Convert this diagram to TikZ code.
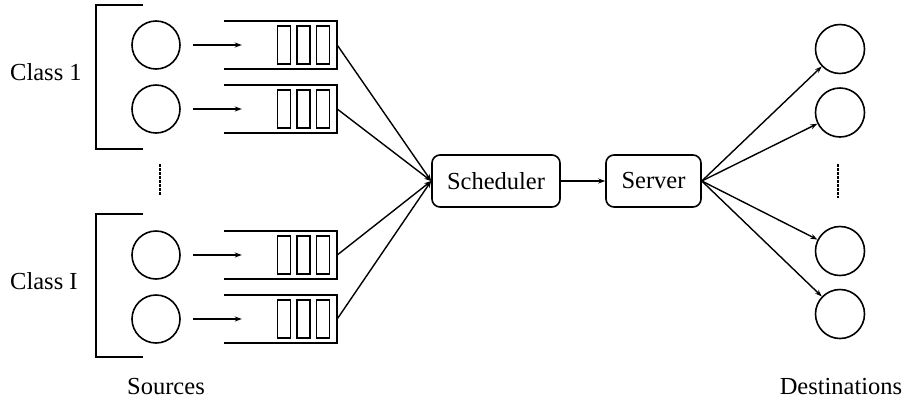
\documentclass[tikz,border=0pt]{standalone}
\usepackage{fontspec}
\setmainfont{Liberation Serif}
\usetikzlibrary{arrows.meta}
\begin{document}
\begin{tikzpicture}[x=1pt,y=-1pt,
  lbl/.style={font=\fontsize{24.5}{28}\selectfont, inner sep=0pt},
  src/.style={draw, circle, line width=1.6pt, minimum size=48pt, inner sep=0pt},
  dst/.style={draw, circle, line width=1.6pt, minimum size=49pt, inner sep=0pt},
  proc/.style={draw, rounded corners=8pt, line width=1.6pt, inner sep=0pt,
    font=\fontsize{24.5}{28}\selectfont},
  qframe/.style={draw=none, minimum width=113pt, minimum height=48pt, inner sep=0pt},
  slot/.style={line width=1.5pt},
  wire/.style={line width=1.4pt, -{Stealth[length=7pt,width=5pt]}},
  brk/.style={line width=1.6pt},
  dots/.style={line width=1.4pt, dash pattern=on 2.5pt off 1.5pt}]
\useasboundingbox (0,0) rectangle (904,405);

% class brackets
\draw[brk] (143,5) -- (96,5) -- (96,149) -- (143,149);
\draw[brk] (143,214) -- (96,214) -- (96,357) -- (143,357);
\node[lbl, anchor=west] (c1) at (10,72) {Class 1};
\node[lbl, anchor=west] (cI) at (10,281) {Class I};
\draw[dots] (160,164) -- (160,196);

% sources
\node[src] (s1) at (156,45) {};
\node[src] (s2) at (156,109) {};
\node[src] (s3) at (156,255) {};
\node[src] (s4) at (156,319) {};

% queues: open on the left, three slots near the right end
\foreach \i/\y in {1/45, 2/109, 3/255, 4/319} {
  \node[qframe] (q\i) at (280.5,\y) {};
  \draw[brk] (q\i.north west) -- (q\i.north east) -- (q\i.south east) -- (q\i.south west);
  \foreach \x in {277.5, 297, 316.5}
    \draw[slot] (\x,\y-19) rectangle ++(13,38);
  \draw[wire, shorten <=12pt] (s\i.east) -- ([xshift=18pt]q\i.west);
}

% scheduler and server
\node[proc, minimum width=128pt, minimum height=52pt] (sch) at (496,181) {Scheduler};
\node[proc, minimum width=95pt, minimum height=52pt] (srv) at (653.5,181) {Server};
\foreach \i in {1,...,4}
  \draw[wire] (q\i.east) -- (sch.west);
\draw[wire] (sch) -- (srv);

% destinations
\node[dst] (d1) at (840,49) {};
\node[dst] (d2) at (840,112.5) {};
\node[dst] (d3) at (840,251) {};
\node[dst] (d4) at (840,314) {};
\draw[dots] (838,164) -- (838,198);
\foreach \i in {1,...,4}
  \draw[wire] (srv.east) -- (d\i);

\node[lbl] (srcl) at (166,386) {Sources};
\node[lbl] (dstl) at (841,386) {Destinations};
\end{tikzpicture}
\end{document}
